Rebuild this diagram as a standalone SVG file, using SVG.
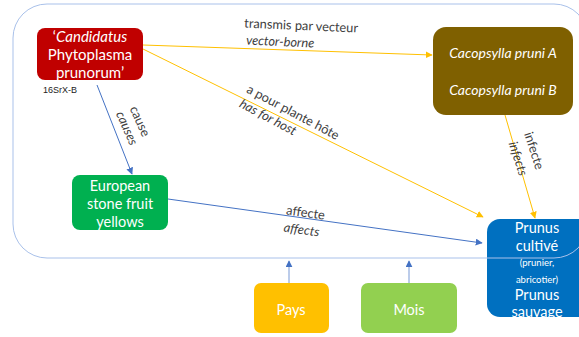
<svg xmlns="http://www.w3.org/2000/svg" width="579" height="337" viewBox="0 0 579 337">
  <style>
    .node-text { font-family: Lato, "Open Sans", "Liberation Sans", sans-serif; fill: #ffffff; text-anchor: middle; }
    .lbl { font-family: Lato, "Open Sans", "Liberation Sans", sans-serif; font-size: 12.8px; fill: #404040; text-anchor: middle; }
    .it { font-style: italic; }
    .yel { stroke: #ffc000; stroke-width: 1; fill: none; }
    .blu { stroke: #4472c4; stroke-width: 1; fill: none; }
    .blu-lt { stroke: #8faadc; stroke-width: 1.2; fill: none; }
  </style>
  <defs>
    <marker id="ahY" viewBox="0 0 10 10" refX="9" refY="5" markerWidth="7" markerHeight="7" orient="auto" markerUnits="userSpaceOnUse">
      <path d="M0,0 L10,5 L0,10 z" fill="#ffc000"/>
    </marker>
    <marker id="ahB" viewBox="0 0 10 10" refX="9" refY="5" markerWidth="7" markerHeight="7" orient="auto" markerUnits="userSpaceOnUse">
      <path d="M0,0 L10,5 L0,10 z" fill="#4472c4"/>
    </marker>
  </defs>

  <rect width="579" height="337" fill="#ffffff"/>

  <!-- connectors -->
  <g id="connectors">
    <line class="yel" x1="143" y1="45" x2="432" y2="55" marker-end="url(#ahY)"/>
    <line class="yel" x1="143" y1="49" x2="483" y2="217" marker-end="url(#ahY)"/>
    <line class="yel" x1="505" y1="115" x2="535" y2="218" marker-end="url(#ahY)"/>
    <line class="blu" x1="97" y1="85" x2="132" y2="174" marker-end="url(#ahB)"/>
    <line class="blu" x1="168" y1="199" x2="482" y2="243" marker-end="url(#ahB)"/>
    <line class="blu-lt" x1="289" y1="283" x2="289" y2="261" marker-end="url(#ahB)"/>
    <line class="blu-lt" x1="409" y1="283" x2="409" y2="261" marker-end="url(#ahB)"/>

    <text class="lbl" transform="translate(301,30) rotate(2.5)">transmis par vecteur</text>
    <text class="lbl it" transform="translate(280,46) rotate(2.5)">vector-borne</text>
    <text class="lbl" transform="translate(291,116) rotate(28)">a pour plante hôte</text>
    <text class="lbl it" transform="translate(266,121) rotate(28)">has for host</text>
    <text class="lbl" transform="translate(136,123) rotate(66)">cause</text>
    <text class="lbl it" transform="translate(123,130) rotate(66)">causes</text>
    <text class="lbl" transform="translate(530,152) rotate(72)">infecte</text>
    <text class="lbl it" transform="translate(514,160) rotate(72)">infects</text>
    <text class="lbl" transform="translate(305,217) rotate(8)">affecte</text>
    <text class="lbl it" transform="translate(301,234) rotate(8)">affects</text>
  </g>

  <!-- nodes -->
  <g id="candidatus">
    <rect x="37" y="28" width="106" height="52" rx="8" fill="#c00000"/>
    <text class="node-text" font-size="15"><tspan x="90" y="42">‘<tspan font-style="italic">Candidatus</tspan></tspan><tspan x="90" y="60">Phytoplasma</tspan><tspan x="90" y="78">prunorum’</tspan></text>
    <text x="43" y="93" font-family="'Liberation Sans', Arial, sans-serif" font-size="9" fill="#222222">16SrX-B</text>
  </g>

  <g id="cacopsylla">
    <rect x="433" y="27" width="140" height="88" rx="13" fill="#7f6000"/>
    <text class="node-text it" font-size="14"><tspan x="503" y="58">Cacopsylla pruni A</tspan><tspan x="503" y="95">Cacopsylla pruni B</tspan></text>
  </g>

  <g id="esfy">
    <rect x="72" y="175" width="96" height="55" rx="8" fill="#00b050"/>
    <text class="node-text" font-size="14.5"><tspan x="120" y="191">European</tspan><tspan x="120" y="209">stone fruit</tspan><tspan x="120" y="227">yellows</tspan></text>
  </g>

  <g id="prunus">
    <rect x="487" y="219" width="110" height="98" rx="13" fill="#0070c0"/>
    <text class="node-text" font-size="14.5"><tspan x="537" y="233">Prunus</tspan><tspan x="537" y="251">cultivé</tspan><tspan x="537" y="266" font-size="9.5">(prunier,</tspan><tspan x="537" y="283" font-size="9.5">abricotier)</tspan><tspan x="537" y="300">Prunus</tspan><tspan x="537" y="317">sauvage</tspan></text>
  </g>

  <g id="pays">
    <rect x="254" y="283" width="75" height="50" rx="7" fill="#ffc000"/>
    <text class="node-text" font-size="14.5" x="291" y="315">Pays</text>
  </g>

  <g id="mois">
    <rect x="361" y="283" width="96" height="50" rx="7" fill="#92d050"/>
    <text class="node-text" font-size="14.5" x="409" y="315">Mois</text>
  </g>

  <!-- outer frame -->
  <g id="frame">
    <rect x="13" y="4" width="575" height="254" rx="34" fill="none" stroke="#a9c1ea" stroke-width="1"/>
  </g>
</svg>
